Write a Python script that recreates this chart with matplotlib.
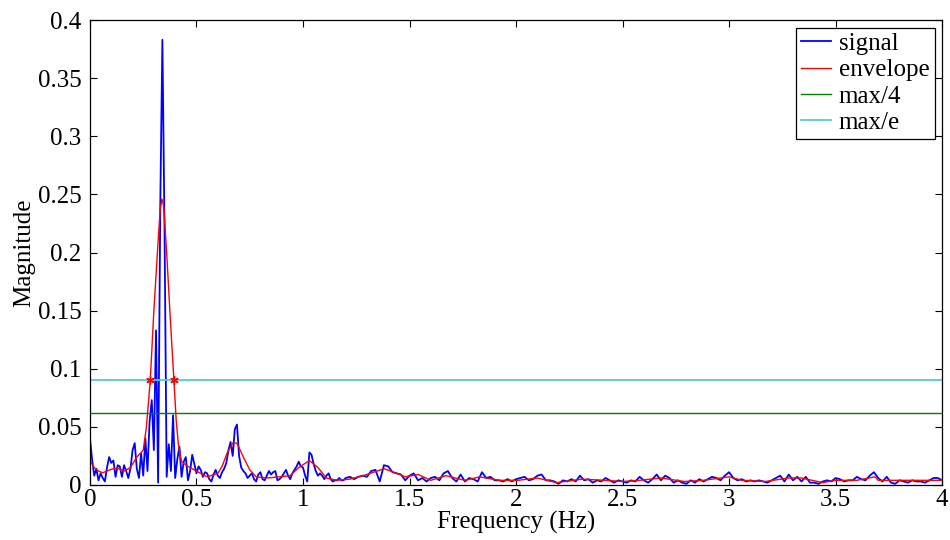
import numpy as np
import matplotlib
matplotlib.use("Agg")
import matplotlib.pyplot as plt

# spectrum magnitude, 0.00 .. 1.20 Hz in 0.01 Hz steps
mag_lo = [
    0.040, 0.022, 0.008, 0.014, 0.004, 0.010, 0.006, 0.003, 0.015, 0.024,
    0.019, 0.021, 0.007, 0.017, 0.016, 0.007, 0.017, 0.012, 0.006, 0.014,
    0.030, 0.036, 0.014, 0.006, 0.027, 0.008, 0.040, 0.012, 0.055, 0.073,
    0.030, 0.133, 0.002, 0.240, 0.383, 0.220, 0.007, 0.035, 0.012, 0.060,
    0.006, 0.022, 0.033, 0.007, 0.020, 0.024, 0.004, 0.012, 0.026, 0.018,
    0.010, 0.016, 0.013, 0.007, 0.011, 0.010, 0.005, 0.003, 0.009, 0.013,
    0.008, 0.006, 0.011, 0.014, 0.019, 0.030, 0.037, 0.025, 0.048, 0.052,
    0.025, 0.015, 0.012, 0.010, 0.006, 0.008, 0.010, 0.005, 0.003, 0.009,
    0.011, 0.005, 0.004, 0.008, 0.012, 0.009, 0.011, 0.012, 0.004, 0.005,
    0.007, 0.010, 0.013, 0.008, 0.005, 0.010, 0.013, 0.016, 0.020, 0.016,
    0.015, 0.008, 0.003, 0.028, 0.026, 0.018, 0.012, 0.008, 0.010, 0.008,
    0.005, 0.008, 0.010, 0.005, 0.003, 0.004, 0.004, 0.006, 0.004, 0.004,
    0.006,
]

# spectrum magnitude, 1.22 .. 4.00 Hz in 0.02 Hz steps
mag_hi = [
    0.007, 0.005, 0.007, 0.008, 0.007, 0.012, 0.013, 0.003, 0.017, 0.016,
    0.011, 0.010, 0.009, 0.004, 0.008, 0.010, 0.004, 0.006, 0.003, 0.006,
    0.007, 0.004, 0.010, 0.012, 0.006, 0.003, 0.009, 0.003, 0.006, 0.005,
    0.003, 0.011, 0.006, 0.007, 0.004, 0.004, 0.003, 0.005, 0.003, 0.005,
    0.006, 0.007, 0.004, 0.005, 0.008, 0.009, 0.004, 0.004, 0.003, 0.001,
    0.004, 0.003, 0.005, 0.003, 0.008, 0.004, 0.005, 0.002, 0.004, 0.003,
    0.006, 0.004, 0.002, 0.004, 0.003, 0.002, 0.004, 0.003, 0.007, 0.004,
    0.002, 0.005, 0.009, 0.004, 0.008, 0.006, 0.002, 0.004, 0.002, 0.001,
    0.004, 0.002, 0.005, 0.003, 0.005, 0.007, 0.006, 0.004, 0.008, 0.011,
    0.006, 0.004, 0.005, 0.003, 0.004, 0.003, 0.004, 0.003, 0.002, 0.004,
    0.006, 0.008, 0.003, 0.009, 0.004, 0.007, 0.003, 0.007, 0.002, 0.002,
    0.001, 0.003, 0.004, 0.003, 0.006, 0.005, 0.003, 0.004, 0.004, 0.007,
    0.005, 0.004, 0.008, 0.011, 0.006, 0.003, 0.007, 0.002, 0.001, 0.004,
    0.003, 0.002, 0.004, 0.003, 0.003, 0.002, 0.004, 0.006, 0.006, 0.004,
]

# envelope knots
env_freq = [
    0.00, 0.02, 0.04, 0.06, 0.08, 0.10, 0.13, 0.16, 0.19, 0.22,
    0.25, 0.265, 0.283, 0.30, 0.32, 0.33, 0.338, 0.346, 0.36, 0.375,
    0.394, 0.405, 0.415, 0.43, 0.46, 0.50, 0.55, 0.60, 0.62, 0.645,
    0.67, 0.69, 0.72, 0.75, 0.78, 0.83, 0.89, 0.94, 0.98, 1.03,
    1.07, 1.11, 1.16, 1.22, 1.30, 1.38, 1.44, 1.48, 1.54, 1.60,
    1.67, 1.76, 1.83, 1.92, 2.01, 2.10, 2.19, 2.31, 2.42, 2.50,
    2.58, 2.68, 2.79, 2.88, 3.00, 3.06, 3.17, 3.28, 3.34, 3.44,
    3.50, 3.60, 3.685, 3.70, 3.80, 4.00,
]
env_mag = [
    0.021, 0.015, 0.012, 0.0105, 0.012, 0.0135, 0.0145, 0.012, 0.015, 0.024,
    0.030, 0.050, 0.090, 0.150, 0.210, 0.238, 0.246, 0.240, 0.200, 0.150,
    0.090, 0.055, 0.035, 0.020, 0.016, 0.012, 0.007, 0.010, 0.016, 0.028,
    0.036, 0.036, 0.024, 0.013, 0.007, 0.006, 0.007, 0.008, 0.015, 0.021,
    0.015, 0.006, 0.004, 0.005, 0.009, 0.014, 0.010, 0.007, 0.009, 0.004,
    0.008, 0.004, 0.007, 0.004, 0.004, 0.006, 0.002, 0.005, 0.004, 0.003,
    0.004, 0.006, 0.003, 0.004, 0.007, 0.004, 0.003, 0.006, 0.006, 0.002,
    0.004, 0.004, 0.007, 0.004, 0.004, 0.004,
]

# where the envelope crosses max/e
cross_freq = [0.283, 0.394]

freq = np.concatenate([0.01 * np.arange(len(mag_lo)),
                       1.22 + 0.02 * np.arange(len(mag_hi))])
mag = np.array(mag_lo + mag_hi)
env_max = max(env_mag)

plt.rcParams["font.family"] = ["Liberation Serif", "DejaVu Serif"]
plt.rcParams["font.size"] = 18

fig = plt.figure(figsize=(9.5, 5.4), dpi=100)
ax = fig.add_axes([0.0947, 0.1019, 0.897, 0.861])

ax.plot(freq, mag, color="#0000ff", lw=1.3, label="signal")
ax.plot(env_freq, env_mag, color="#ff0000", lw=1.0, label="envelope")
ax.axhline(env_max / 4, color="#007f00", lw=1.0, label="max/4")
ax.axhline(env_max / np.e, color="#4dcfd0", lw=1.3, label="max/e")
ax.plot(cross_freq, [env_max / np.e] * len(cross_freq), ls="none",
        marker=(6, 2, 0), ms=6, mec="#ff0000", mew=1.0)

ax.set_xlim(0, 4)
ax.set_ylim(0, 0.4)
ax.set_xticks(np.arange(0, 4.01, 0.5))
ax.set_xticklabels(["0", "0.5", "1", "1.5", "2", "2.5", "3", "3.5", "4"])
ax.set_yticks(np.arange(0, 0.401, 0.05))
ax.set_yticklabels(["0", "0.05", "0.1", "0.15", "0.2", "0.25", "0.3", "0.35", "0.4"])
ax.tick_params(direction="in", top=True, right=True, length=5, width=0.8,
               labelsize=18)
ax.tick_params(axis="x", pad=3)
ax.tick_params(axis="y", pad=6)
for s in ax.spines.values():
    s.set_linewidth(0.9)

ax.set_xlabel("Frequency (Hz)", fontsize=18, labelpad=0)
ax.set_ylabel("Magnitude", fontsize=18, labelpad=2)

leg = ax.legend(loc="upper right", bbox_to_anchor=(1.0, 1.0), borderaxespad=0.3,
                fancybox=False, framealpha=1, edgecolor="black", fontsize=18,
                handlelength=1.2, handletextpad=0.3, borderpad=0.2,
                labelspacing=0.15)
leg.get_frame().set_linewidth(0.9)

fig.savefig("out.png", dpi=100)
